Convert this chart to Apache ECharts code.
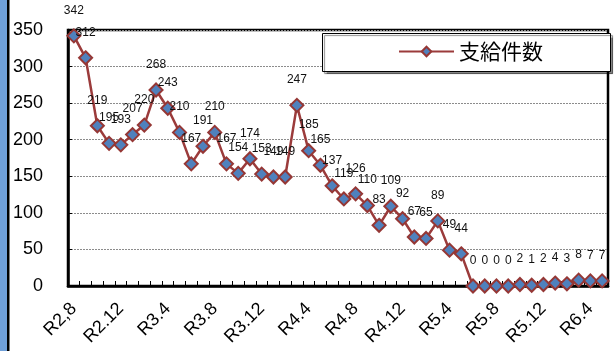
<!DOCTYPE html>
<html>
<head>
<meta charset="utf-8">
<script src="https://cdn.jsdelivr.net/npm/echarts@6/dist/echarts.min.js"></script>
<style>
  html, body { margin: 0; padding: 0; background: #fff; }
  #chart { width: 616px; height: 351px; }
</style>
</head>
<body>
<div id="chart"></div>
<script>
// Monthly categories from R2.8 to R6.5
const months = [
  'R2,8', 'R2.9', 'R2.10', 'R2.11', 'R2.12',
  'R3.1', 'R3.2', 'R3.3', 'R3.4', 'R3.5', 'R3.6', 'R3.7', 'R3.8', 'R3.9', 'R3.10', 'R3.11', 'R3.12',
  'R4.1', 'R4.2', 'R4.3', 'R4.4', 'R4.5', 'R4.6', 'R4.7', 'R4.8', 'R4.9', 'R4.10', 'R4.11', 'R4.12',
  'R5.1', 'R5.2', 'R5.3', 'R5.4', 'R5.5', 'R5.6', 'R5.7', 'R5.8', 'R5.9', 'R5.10', 'R5.11', 'R5.12',
  'R6.1', 'R6.2', 'R6.3', 'R6.4', 'R6.5'
];

// Number of payments per month
const payments = [
  342, 312, 219, 195, 193,
  207, 220, 268, 243, 210, 167, 191, 210, 167, 154, 174, 153,
  149, 149, 247, 185, 165, 137, 119, 126, 110, 83, 109, 92,
  67, 65, 89, 49, 44, 0, 0, 0, 0, 2, 1, 2,
  4, 3, 8, 7, 7
];

const seriesName = '支給件数';
const yTicks = { min: 0, max: 350, interval: 50 };

const chart = echarts.init(document.getElementById('chart'), null, { renderer: 'canvas' });

chart.setOption({
  animation: false,
  backgroundColor: '#fff',
  textStyle: { fontFamily: 'Arial, "Liberation Sans", sans-serif' },
  grid: {
    left: 68, right: 8, top: 30, bottom: 65,
    show: true, borderColor: '#000', borderWidth: 2.5, backgroundColor: 'transparent'
  },
  graphic: [
    { type: 'rect', z: 0, shape: { x: 0, y: 0, width: 7, height: 351 }, style: { fill: '#6F9FD8' } },
    { type: 'rect', z: 0, shape: { x: 7, y: 0, width: 2.5, height: 351 }, style: { fill: '#000' } },
    {
      type: 'rect', z: 5,
      shape: { x: 322.5, y: 33.5, width: 288, height: 38 },
      style: {
        fill: '#fff', stroke: '#000', lineWidth: 1,
        shadowColor: 'rgba(0,0,0,0.45)', shadowOffsetX: 2, shadowOffsetY: 2, shadowBlur: 1
      }
    }
  ],
  legend: {
    z: 10,
    left: 398, top: 41, padding: 0,
    itemWidth: 55, itemHeight: 12,
    textStyle: { fontSize: 21, color: '#000', fontFamily: '"Noto Sans CJK JP", sans-serif' },
    data: [seriesName]
  },
  xAxis: {
    type: 'category',
    data: months,
    boundaryGap: true,
    axisLine: { show: true, lineStyle: { color: '#000', width: 2.5 } },
    axisTick: { show: true, inside: true, length: 5, interval: 0, lineStyle: { color: '#000', width: 1 } },
    axisLabel: { interval: 3, rotate: 45, fontSize: 18, color: '#000', margin: 20 },
    splitLine: { show: false }
  },
  yAxis: {
    type: 'value',
    min: yTicks.min, max: yTicks.max, interval: yTicks.interval,
    axisLine: { show: true, lineStyle: { color: '#000', width: 2.5 } },
    axisTick: { show: true, inside: true, length: 4, lineStyle: { color: '#000', width: 1 } },
    axisLabel: { fontSize: 18, color: '#000', margin: 25 },
    splitLine: { show: true, lineStyle: { color: '#8c8c8c', width: 1, type: [2, 1] } }
  },
  series: [{
    name: seriesName,
    type: 'line',
    data: payments,
    symbol: 'diamond',
    symbolSize: 13,
    showAllSymbol: true,
    lineStyle: { color: '#9B3B3B', width: 2.5 },
    itemStyle: { color: '#4F81BD', borderColor: '#953735', borderWidth: 2 },
    label: {
      show: true, position: 'top', distance: 12,
      fontSize: 12, color: '#111'
    },
    z: 3
  }]
});
</script>
</body>
</html>
